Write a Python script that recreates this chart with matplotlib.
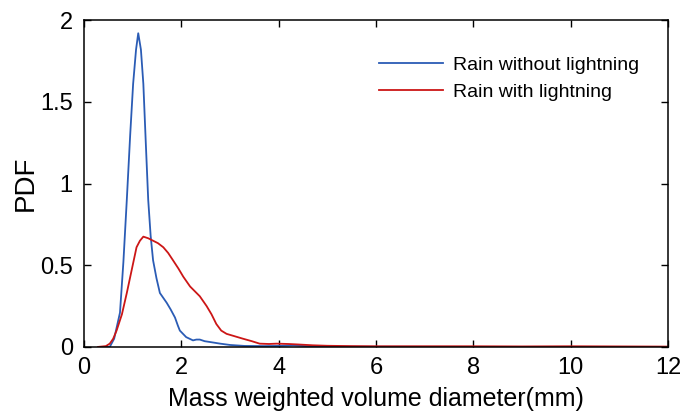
import matplotlib
matplotlib.use('Agg')
import matplotlib.pyplot as plt
from matplotlib.ticker import FuncFormatter

plt.rcParams['font.family'] = ['Liberation Sans', 'DejaVu Sans']

# PDF of mass weighted volume diameter
d_nolight = [0.45, 0.53, 0.62, 0.74, 0.81, 0.88, 0.95, 1.01, 1.07, 1.115, 1.17, 1.22, 1.27, 1.32,
             1.37, 1.42, 1.49, 1.56, 1.63, 1.70, 1.78, 1.87, 1.93, 1.97, 2.1, 2.24, 2.31,
             2.38, 2.48, 2.59, 2.8, 3.0, 3.3, 3.7, 4.0, 4.3, 4.6, 5.0, 6.0, 8.0, 10.0, 12.0]
pdf_nolight = [0.0, 0.0, 0.05, 0.21, 0.52, 0.90, 1.30, 1.61, 1.82, 1.92, 1.82, 1.61, 1.25, 0.90,
               0.68, 0.53, 0.42, 0.33, 0.30, 0.27, 0.23, 0.18, 0.13, 0.10, 0.06, 0.04, 0.045,
               0.045, 0.035, 0.03, 0.02, 0.012, 0.006, 0.005, 0.006, 0.01, 0.004, 0.002, 0.001, 0.0, 0.0, 0.0]

d_light = [0.29, 0.45, 0.53, 0.6, 0.67, 0.78, 0.88, 0.98, 1.08, 1.15, 1.22, 1.32, 1.42, 1.52,
           1.63, 1.73, 1.83, 1.94, 2.04, 2.11, 2.18, 2.28, 2.38, 2.45, 2.52, 2.62, 2.72,
           2.82, 2.93, 3.1, 3.27, 3.45, 3.61, 3.8, 3.96, 4.2, 4.4, 4.7, 5.0, 5.5, 6.0, 7.0,
           8.0, 9.0, 10.0, 11.0, 12.0]
pdf_light = [0.0, 0.005, 0.02, 0.05, 0.1, 0.2, 0.33, 0.47, 0.61, 0.65, 0.675, 0.665, 0.65, 0.635,
             0.61, 0.575, 0.53, 0.48, 0.43, 0.40, 0.37, 0.34, 0.31, 0.28, 0.25, 0.2, 0.14,
             0.1, 0.08, 0.065, 0.05, 0.035, 0.02, 0.018, 0.02, 0.018, 0.015, 0.01, 0.007, 0.005, 0.004, 0.004,
             0.004, 0.003, 0.004, 0.003, 0.002]

fig = plt.figure(figsize=(6.94, 4.2), dpi=100)
ax = fig.add_axes([0.121, 0.174, 0.8415, 0.778])

ax.plot(d_nolight, pdf_nolight, color='#2b5cb5', lw=1.3, label='Rain without lightning')
ax.plot(d_light, pdf_light, color='#cc1616', lw=1.3, label='Rain with lightning')

ax.set_xlim(0, 12)
ax.set_ylim(0, 2)
ax.set_xticks(range(0, 13, 2))
ax.set_yticks([0, 0.5, 1, 1.5, 2])
ax.yaxis.set_major_formatter(FuncFormatter(lambda v, p: '%g' % v))
ax.tick_params(direction='in', top=True, right=True, length=5, width=1)
ax.tick_params(axis='x', pad=7, labelsize=17)
ax.tick_params(axis='y', pad=8, labelsize=17)
for s in ax.spines.values():
    s.set_linewidth(1.1)

ax.set_xlabel('Mass weighted volume diameter(mm)', fontsize=18, labelpad=6)
ax.set_ylabel('PDF', fontsize=20)
ax.yaxis.set_label_coords(-0.077, 0.5)

ax.legend(loc='upper left', bbox_to_anchor=(0.505, 0.89), frameon=False, fontsize=14,
          handlelength=3.3, handletextpad=0.5, borderaxespad=0, borderpad=0,
          labelspacing=0.5)

fig.savefig('out.png', dpi=100)
